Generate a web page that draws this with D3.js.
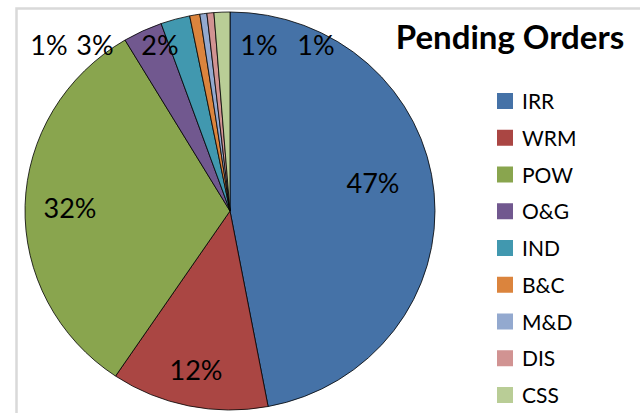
<!DOCTYPE html>
<html>
<head>
<meta charset="utf-8">
<script src="https://cdn.jsdelivr.net/npm/d3@7"></script>
<style>
  body { margin: 0; background: #fff; }
  text { font-family: Lato, "Open Sans", sans-serif; fill: #000; }
</style>
</head>
<body>
<div id="chart"></div>
<script>
// data (share of pending orders, %)
var categories = ["IRR", "WRM", "POW", "O&G", "IND", "B&C", "M&D", "DIS", "CSS"];
var shares = [47, 12.4, 32, 3.1, 2.3, 0.8, 0.55, 0.55, 1.25];
var colors = ["#4572a7", "#aa4643", "#89a54e", "#71588f", "#4198af",
              "#db843d", "#93a9cf", "#d19392", "#b9cd96"];
var title = "Pending Orders";

var svgWidth = 640;
var svgHeight = 413;

var svg = d3.select("#chart")
  .append("svg")
  .attr("width", svgWidth)
  .attr("height", svgHeight);

// chart frame
svg.append("rect")
  .attr("x", 16.5)
  .attr("y", 8.5)
  .attr("width", 700)
  .attr("height", 500)
  .attr("fill", "#fff")
  .attr("stroke", "#d9d9d9")
  .attr("stroke-width", 2.5);

var cx = 230, cy = 211;
var rx = 205, ry = 199;

var pie = d3.pie().sort(null).value(d => d);
var arcs = pie(shares);
var total = d3.sum(shares);

var arc = d3.arc().innerRadius(0).outerRadius(rx);

var pieGroup = svg.append("g")
  .attr("transform", `translate(${cx}, ${cy}) scale(1, ${ry / rx})`);

pieGroup.selectAll("path")
  .data(arcs)
  .enter()
  .append("path")
  .attr("d", arc)
  .attr("fill", (d, i) => colors[i])
  .attr("stroke", "#000")
  .attr("stroke-width", 0.8)
  .attr("vector-effect", "non-scaling-stroke");

// label spots (where the labels sit on the picture), one per slice; null = hidden
var labelPos = [[373, 193], [196, 380], [70, 218], [95, 55], [160, 55],
                [49, 55], null, [259, 55], [316, 55]];

svg.selectAll(".pct")
  .data(arcs.filter((d, i) => labelPos[i]))
  .enter()
  .append("text")
  .attr("class", "pct")
  .attr("x", d => labelPos[d.index][0])
  .attr("y", d => labelPos[d.index][1])
  .attr("text-anchor", "middle")
  .style("font-size", "27px")
  .text(d => Math.max(1, Math.round(d.value / total * 100)) + "%");

// title
svg.append("text")
  .attr("x", 510)
  .attr("y", 49)
  .attr("text-anchor", "middle")
  .style("font-size", "33px")
  .style("font-weight", "bold")
  .text(title);

// legend
var legend = svg.append("g")
  .attr("transform", "translate(497, 93)");

var items = legend.selectAll("g")
  .data(categories)
  .enter()
  .append("g")
  .attr("transform", (d, i) => `translate(0, ${i * 36.75})`);

items.append("rect")
  .attr("width", 16)
  .attr("height", 16)
  .attr("fill", (d, i) => colors[i]);

items.append("text")
  .attr("x", 25)
  .attr("y", 16)
  .style("font-size", "21px")
  .text(d => d);
</script>
</body>
</html>
